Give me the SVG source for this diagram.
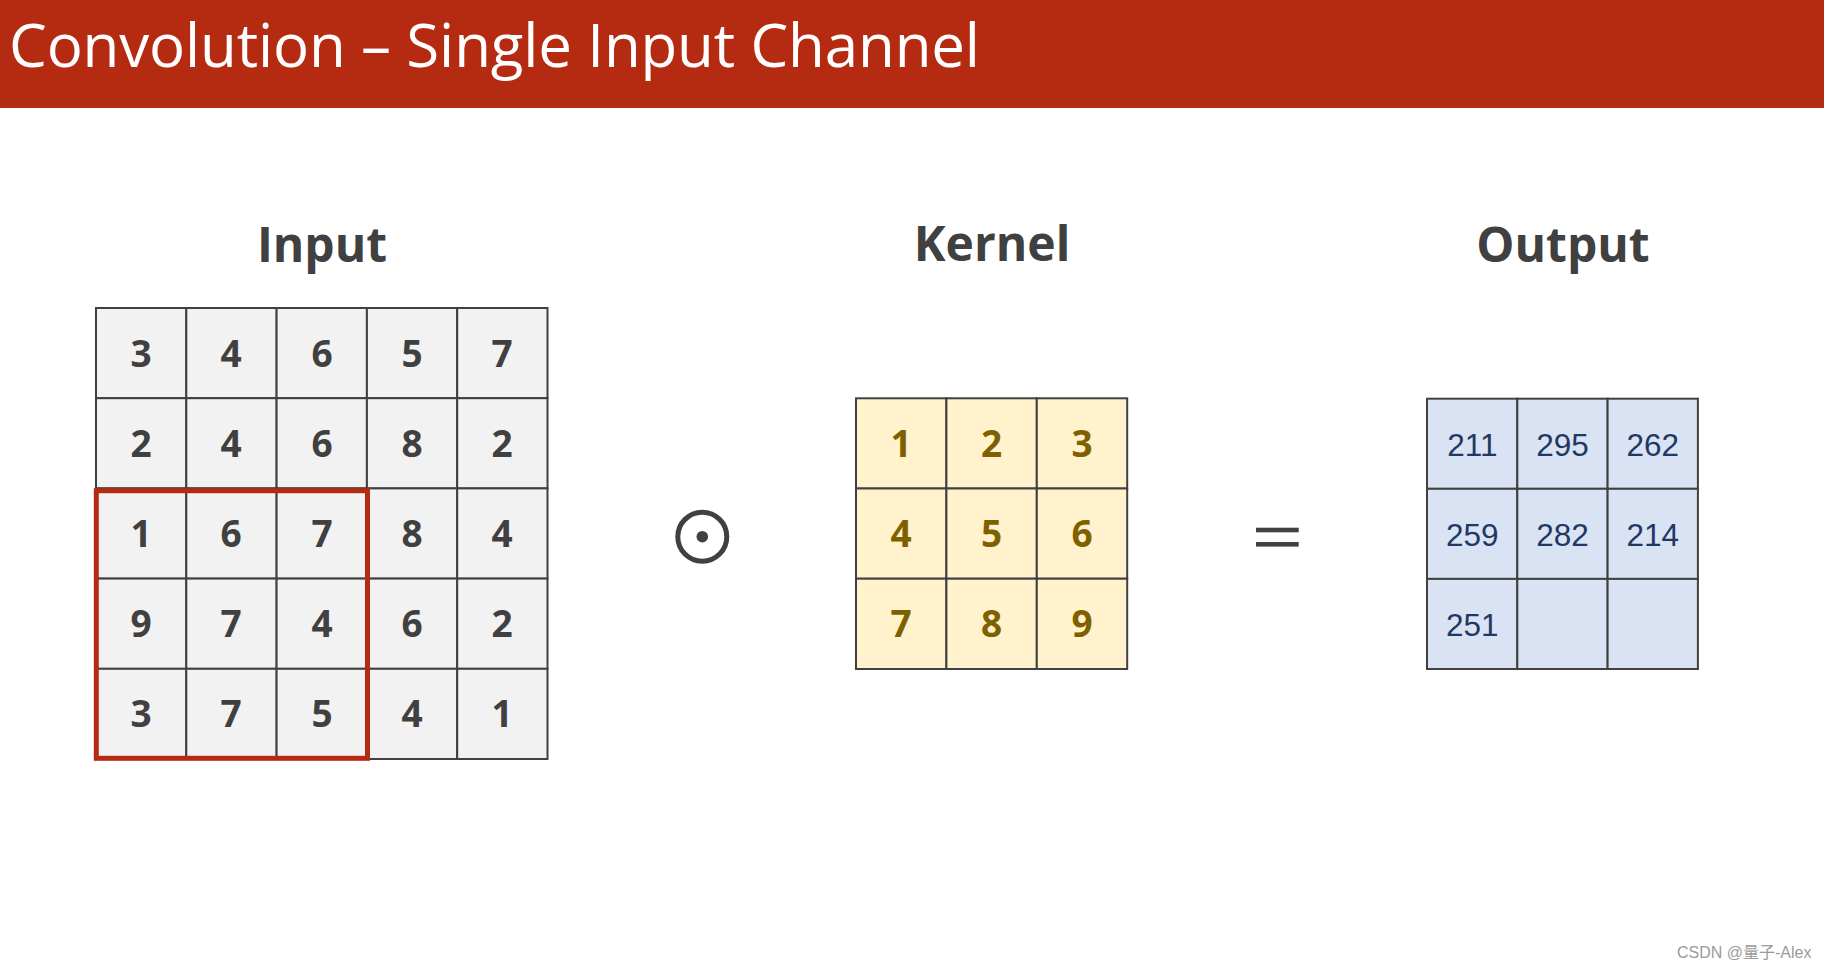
<svg xmlns="http://www.w3.org/2000/svg" width="1824" height="970" viewBox="0 0 1824 970">
<style>
.hdr{fill:#B52B11}
.title{font-family:"Open Sans","Noto Sans",sans-serif;font-size:60px;fill:#FFFFFF}
.lbl{font-family:"Open Sans","Noto Sans",sans-serif;font-weight:bold;font-size:48px;fill:#404040;text-anchor:middle}
.cell{stroke:#404040;stroke-width:2}
.in{fill:#F2F2F2}
.kn{fill:#FFF2CC}
.out{fill:#DAE3F3}
.num{font-family:"Open Sans","Noto Sans",sans-serif;font-weight:bold;font-size:37px;text-anchor:middle}
.tin{fill:#404040}
.tkn{fill:#7F6000}
.tout{font-family:"Liberation Sans",Arial,sans-serif;font-size:31.5px;fill:#1F3864;text-anchor:middle}
.wm{font-family:"Liberation Sans",Arial,"Noto Sans CJK SC",sans-serif;font-size:16px;fill:#9a9a9a}
</style>
<rect class="hdr" x="0" y="0" width="1824" height="108"/>
<text class="title" x="9" y="67" textLength="971">Convolution – Single Input Channel</text>

<g id="input">
<text class="lbl" x="322" y="262">Input</text>
<g class="cell in">
<rect x="96" y="308" width="90.3" height="90.2"/><rect x="186.3" y="308" width="90.3" height="90.2"/><rect x="276.6" y="308" width="90.3" height="90.2"/><rect x="366.9" y="308" width="90.3" height="90.2"/><rect x="457.2" y="308" width="90.3" height="90.2"/>
<rect x="96" y="398.2" width="90.3" height="90.2"/><rect x="186.3" y="398.2" width="90.3" height="90.2"/><rect x="276.6" y="398.2" width="90.3" height="90.2"/><rect x="366.9" y="398.2" width="90.3" height="90.2"/><rect x="457.2" y="398.2" width="90.3" height="90.2"/>
<rect x="96" y="488.4" width="90.3" height="90.2"/><rect x="186.3" y="488.4" width="90.3" height="90.2"/><rect x="276.6" y="488.4" width="90.3" height="90.2"/><rect x="366.9" y="488.4" width="90.3" height="90.2"/><rect x="457.2" y="488.4" width="90.3" height="90.2"/>
<rect x="96" y="578.6" width="90.3" height="90.2"/><rect x="186.3" y="578.6" width="90.3" height="90.2"/><rect x="276.6" y="578.6" width="90.3" height="90.2"/><rect x="366.9" y="578.6" width="90.3" height="90.2"/><rect x="457.2" y="578.6" width="90.3" height="90.2"/>
<rect x="96" y="668.8" width="90.3" height="90.2"/><rect x="186.3" y="668.8" width="90.3" height="90.2"/><rect x="276.6" y="668.8" width="90.3" height="90.2"/><rect x="366.9" y="668.8" width="90.3" height="90.2"/><rect x="457.2" y="668.8" width="90.3" height="90.2"/>
</g>
<g class="num tin">
<text x="141" y="367">3</text><text x="231" y="367">4</text><text x="322" y="367">6</text><text x="412" y="367">5</text><text x="502" y="367">7</text>
<text x="141" y="457">2</text><text x="231" y="457">4</text><text x="322" y="457">6</text><text x="412" y="457">8</text><text x="502" y="457">2</text>
<text x="141" y="547">1</text><text x="231" y="547">6</text><text x="322" y="547">7</text><text x="412" y="547">8</text><text x="502" y="547">4</text>
<text x="141" y="637">9</text><text x="231" y="637">7</text><text x="322" y="637">4</text><text x="412" y="637">6</text><text x="502" y="637">2</text>
<text x="141" y="727">3</text><text x="231" y="727">7</text><text x="322" y="727">5</text><text x="412" y="727">4</text><text x="502" y="727">1</text>
</g>
<rect x="96.3" y="490.7" width="271.2" height="267.6" fill="none" stroke="#B52B11" stroke-width="5"/>
</g>

<g id="odot">
<circle cx="702.3" cy="536.7" r="24.5" fill="none" stroke="#404040" stroke-width="5"/>
<circle cx="702.3" cy="536.7" r="5.8" fill="#404040"/>
</g>

<g id="kernel">
<text class="lbl" x="992" y="261">Kernel</text>
<g class="cell kn">
<rect x="856" y="398.3" width="90.4" height="90.2"/><rect x="946.4" y="398.3" width="90.4" height="90.2"/><rect x="1036.8" y="398.3" width="90.4" height="90.2"/>
<rect x="856" y="488.5" width="90.4" height="90.2"/><rect x="946.4" y="488.5" width="90.4" height="90.2"/><rect x="1036.8" y="488.5" width="90.4" height="90.2"/>
<rect x="856" y="578.7" width="90.4" height="90.3"/><rect x="946.4" y="578.7" width="90.4" height="90.3"/><rect x="1036.8" y="578.7" width="90.4" height="90.3"/>
</g>
<g class="num tkn">
<text x="901" y="457">1</text><text x="991.6" y="457">2</text><text x="1082" y="457">3</text>
<text x="901" y="547">4</text><text x="991.6" y="547">5</text><text x="1082" y="547">6</text>
<text x="901" y="637">7</text><text x="991.6" y="637">8</text><text x="1082" y="637">9</text>
</g>
</g>

<g id="equals">
<rect x="1256" y="527.7" width="42.7" height="4.6" fill="#404040"/>
<rect x="1256" y="542" width="42.7" height="4.6" fill="#404040"/>
</g>

<g id="output">
<text class="lbl" x="1563" y="262">Output</text>
<g class="cell out">
<rect x="1427" y="398.7" width="90.3" height="90.1"/><rect x="1517.3" y="398.7" width="90.3" height="90.1"/><rect x="1607.6" y="398.7" width="90.3" height="90.1"/>
<rect x="1427" y="488.8" width="90.3" height="90.1"/><rect x="1517.3" y="488.8" width="90.3" height="90.1"/><rect x="1607.6" y="488.8" width="90.3" height="90.1"/>
<rect x="1427" y="578.9" width="90.3" height="90.1"/><rect x="1517.3" y="578.9" width="90.3" height="90.1"/><rect x="1607.6" y="578.9" width="90.3" height="90.1"/>
</g>
<g class="tout">
<text x="1472.3" y="456">211</text><text x="1562.5" y="456">295</text><text x="1652.7" y="456">262</text>
<text x="1472.3" y="546">259</text><text x="1562.5" y="546">282</text><text x="1652.7" y="546">214</text>
<text x="1472.3" y="636">251</text>
</g>
</g>

<g id="connectors"></g>

<text class="wm" x="1677" y="958">CSDN @量子-Alex</text>
</svg>
